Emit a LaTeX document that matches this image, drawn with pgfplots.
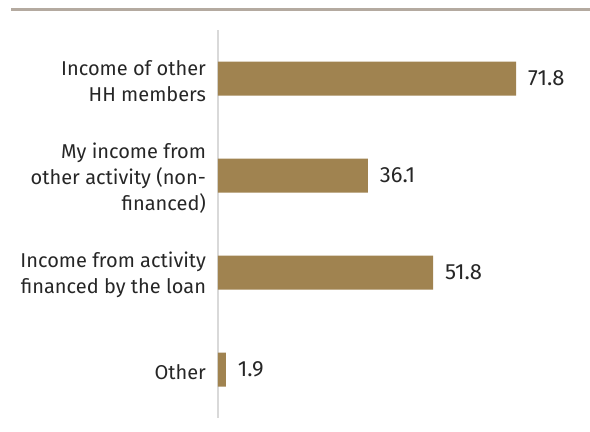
\documentclass[border=0pt]{standalone}
\usepackage{pgfplots}
\pgfplotsset{compat=1.18}
\usepackage{fontspec}
\setmainfont{Fira Sans}
\definecolor{barc}{HTML}{A08350}
\definecolor{rulec}{HTML}{B4AAA0}
\definecolor{axc}{HTML}{D9D9D9}
\definecolor{txt}{HTML}{262626}
\begin{document}
\begin{tikzpicture}
\useasboundingbox (0,0) rectangle (442.5pt,324pt);
\draw[rulec, line width=2.25pt] (8.25pt,316.5pt) -- (442.5pt,316.5pt);
\begin{axis}[
  at={(163.5pt,10.5pt)}, anchor=south west,
  scale only axis, width=279pt, height=291pt,
  xbar, bar width=25.5pt,
  xmin=0, xmax=89.6,
  ymin=-0.5, ymax=3.5, y dir=reverse,
  axis x line=none,
  axis y line*=left,
  y axis line style={axc, line width=1.1pt, -},
  ytick={0,1,2,3}, major tick length=0pt,
  yticklabels={{Income of other\\HH members},{My income from\\other activity (non-\\financed)},{Income from activity\\financed by the loan},{Other}},
  yticklabel style={align=right, font=\fontsize{15}{19.5}\selectfont, text=txt, xshift=-5.5pt, yshift=-2pt},
  nodes near coords,
  nodes near coords style={anchor=west, xshift=5.5pt, font=\fontsize{16.5}{18}\selectfont, text=txt, /pgf/number format/.cd, fixed, precision=1, fixed zerofill, assume math mode=true},
]
\addplot[fill=barc, draw=none] coordinates {(71.8,0) (36.1,1) (51.8,2) (1.9,3)};
\end{axis}
\end{tikzpicture}
\end{document}
